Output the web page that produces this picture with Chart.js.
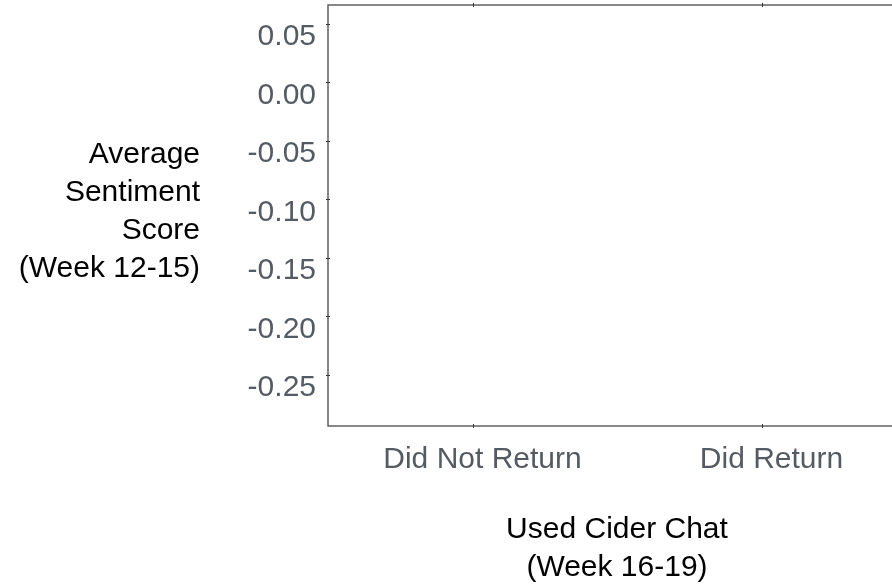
<!DOCTYPE html>
<html>
<head>
<meta charset="utf-8">
<script src="https://cdn.jsdelivr.net/npm/chart.js@4"></script>
<style>
  html, body { margin: 0; padding: 0; background: #fff; overflow: hidden; }
  #wrap { position: relative; width: 920px; height: 584px; }
</style>
</head>
<body>
<div id="wrap"><canvas id="sentimentChart"></canvas></div>
<script>
// categories on the x axis
const groups = ['Did Not Return', 'Did Return'];
// average sentiment per group (nothing is plotted in the reference)
const avgSentiment = [null, null];
// y tick values and the axis range
const yTickValues = [0.05, 0.00, -0.05, -0.10, -0.15, -0.20, -0.25];
const yMin = -0.2936;
const yMax = 0.066;

const yTitleLines = ['Average', 'Sentiment', 'Score', '(Week 12-15)'];
const xTitleLines = ['Used Cider Chat', '(Week 16-19)'];

const FONT = '"Liberation Sans", Arial, Helvetica, sans-serif';
const TICK_COLOR = '#545b63';
const AXIS_COLOR = '#606060';

// frame box and small ticks that cross the axes
const framePlugin = {
    id: 'frame',
    afterDraw(chart) {
        const { ctx, chartArea: a, scales } = chart;
        ctx.save();
        ctx.strokeStyle = AXIS_COLOR;
        ctx.lineWidth = 1.5;
        ctx.strokeRect(a.left, a.top, a.right - a.left, a.bottom - a.top);

        ctx.lineWidth = 1;
        ctx.strokeStyle = '#333';
        ctx.beginPath();
        scales.y.ticks.forEach(t => {
            const y = Math.round(scales.y.getPixelForValue(t.value)) + 0.5;
            ctx.moveTo(a.left - 2, y);
            ctx.lineTo(a.left + 2, y);
        });
        scales.x.ticks.forEach((t, i) => {
            const x = Math.round(scales.x.getPixelForTick(i)) + 0.5;
            ctx.moveTo(x, a.bottom - 2);
            ctx.lineTo(x, a.bottom + 2);
            ctx.moveTo(x, a.top - 2);
            ctx.lineTo(x, a.top + 2);
        });
        ctx.stroke();
        ctx.restore();
    }
};

// horizontal, right-aligned y axis title
const yTitlePlugin = {
    id: 'yTitle',
    afterDraw(chart) {
        const { ctx, chartArea: a } = chart;
        const mid = (a.top + a.bottom) / 2;
        ctx.save();
        ctx.font = '30px ' + FONT;
        ctx.fillStyle = '#000';
        ctx.textAlign = 'right';
        ctx.textBaseline = 'alphabetic';
        yTitleLines.forEach((line, i) => {
            ctx.fillText(line, 200, mid - 53 + i * 38);
        });
        ctx.restore();
    }
};

const ctx = document.getElementById('sentimentChart').getContext('2d');
const sentimentChart = new Chart(ctx, {
    type: 'bar',
    data: {
        labels: groups,
        datasets: [{
            label: 'Average Sentiment Score',
            data: avgSentiment,
            backgroundColor: '#4c72b0'
        }]
    },
    options: {
        responsive: true,
        maintainAspectRatio: false,
        animation: false,
        layout: { padding: { left: 0, top: 5, right: 14, bottom: 0 } },
        plugins: {
            legend: { display: false },
            tooltip: { enabled: false }
        },
        scales: {
            x: {
                offset: true,
                grid: { display: false },
                border: { display: false },
                ticks: {
                    color: TICK_COLOR,
                    font: { family: FONT, size: 30 },
                    padding: 8,
                    labelOffset: 10,
                    maxRotation: 0
                },
                title: {
                    display: true,
                    text: xTitleLines,
                    color: '#000',
                    font: { family: FONT, size: 30, lineHeight: 1.267 },
                    padding: { top: 0, bottom: -3 }
                },
                afterFit(scale) {
                    scale.height = 158;
                    scale.paddingLeft = 0;
                    scale.paddingRight = 0;
                }
            },
            y: {
                min: yMin,
                max: yMax,
                grid: { display: false },
                border: { display: false },
                ticks: {
                    color: TICK_COLOR,
                    font: { family: FONT, size: 30 },
                    padding: 4,
                    labelOffset: 13,
                    callback: v => (Math.abs(v) < 1e-9 ? 0 : v).toFixed(2)
                },
                afterBuildTicks(scale) {
                    scale.ticks = yTickValues.map(v => ({ value: v }));
                },
                afterFit(scale) {
                    scale.width = 328;
                    scale.paddingTop = 0;
                    scale.paddingBottom = 0;
                }
            }
        }
    },
    plugins: [framePlugin, yTitlePlugin]
});
</script>
</body>
</html>
